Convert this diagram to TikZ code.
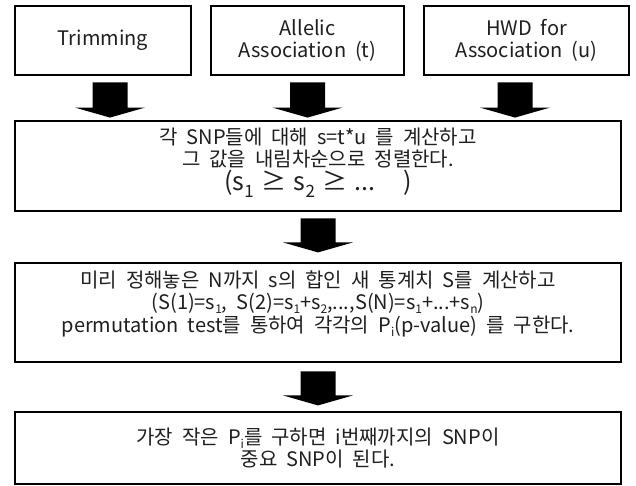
\documentclass[tikz,border=0pt]{standalone}
\usepackage{fontspec}
\setmainfont[WordSpace=2]{Noto Sans CJK KR}
\newcommand\lo[1]{\raisebox{-0.4ex}{\fontsize{12}{12}\selectfont #1}}
\newcommand\loB[1]{\raisebox{-0.5ex}{\fontsize{17}{17}\selectfont #1}}
\newcommand\blockarrow[2]{%
  \fill ([xshift=-17.5pt]#1) -- ([xshift=17.5pt]#1) -- ([xshift=17.5pt,yshift=10pt]#2)
    -- ([xshift=35pt,yshift=10pt]#2) -- (#2) -- ([xshift=-35pt,yshift=10pt]#2)
    -- ([xshift=-17.5pt,yshift=10pt]#2) -- cycle;}
\begin{document}
\begin{tikzpicture}[x=1pt,y=-1pt,
  box/.style={draw=black, line width=2.8pt, fill=white, inner sep=0pt},
  txt/.style={align=center, inner sep=0pt, text=black!88, font=\fontsize{20}{22}\selectfont}]
\useasboundingbox (0,0) rectangle (636,486);
% top boxes
\node[box, txt, minimum width=176pt, minimum height=69pt] (t1) at (103,40.5) {Trimming};
\node[box, txt, minimum width=193pt, minimum height=69pt] (t2) at (307.5,40.5) {Allelic\\Association (t)};
\node[box, txt, minimum width=205pt, minimum height=69pt] (t3) at (526.5,40.5) {HWD for\\Association (u)};
% lower boxes
\node[box, minimum width=606pt, minimum height=90pt] (s2) at (318,166) {};
\node[txt] (s2t) at ([yshift=3pt]s2.center) {각 SNP들에 대해 s=t*u 를 계산하고\\그 값을 내림차순으로 정렬한다.\\[1pt]
  {\fontsize{25}{27}\selectfont (s\loB{1}\hspace{0.3em}≥\hspace{0.3em}s\loB{2}\hspace{0.3em}≥\hspace{0.3em}...\hspace{1.1em})}};
\node[box, minimum width=606pt, minimum height=99pt] (s3) at (318,312.5) {};
\node[txt] (s3t) at ([yshift=9pt]s3.center) {미리 정해놓은 N까지 s의 합인 새 통계치 S를 계산하고\\
  (S(1)=s\lo{1}, S(2)=s\lo{1}+s\lo{2},...,S(N)=s\lo{1}+...+s\lo{n})\\[1pt]
  permutation test를 통하여 각각의 P\lo{i}(p-value) 를 구한다.};
\node[box, minimum width=606pt, minimum height=72pt] (s4) at (318,448) {};
\node[txt] (s4t) at (s4.center) {가장 작은 P\lo{i}를 구하면 i번째까지의 SNP이\\중요 SNP이 된다.};
% arrows
\coordinate (a1s) at ([xshift=7pt,yshift=-6pt]t1.south);
\path (a1s |- s2.north) ++(0,-2) coordinate (a1e);
\coordinate (a2s) at ([yshift=-6pt]t2.south);
\path (a2s |- s2.north) ++(0,-2) coordinate (a2e);
\coordinate (a3s) at ([xshift=-11.5pt,yshift=-6pt]t3.south);
\path (a3s |- s2.north) ++(0,-2) coordinate (a3e);
\coordinate (a4s) at ([yshift=-6pt]s2.south);
\path (a4s) ++(0,34) coordinate (a4e);
\coordinate (a5s) at ([yshift=-8pt]s3.south);
\path (a5s) ++(0,34) coordinate (a5e);
\blockarrow{a1s}{a1e}
\blockarrow{a2s}{a2e}
\blockarrow{a3s}{a3e}
\blockarrow{a4s}{a4e}
\blockarrow{a5s}{a5e}
\end{tikzpicture}
\end{document}
